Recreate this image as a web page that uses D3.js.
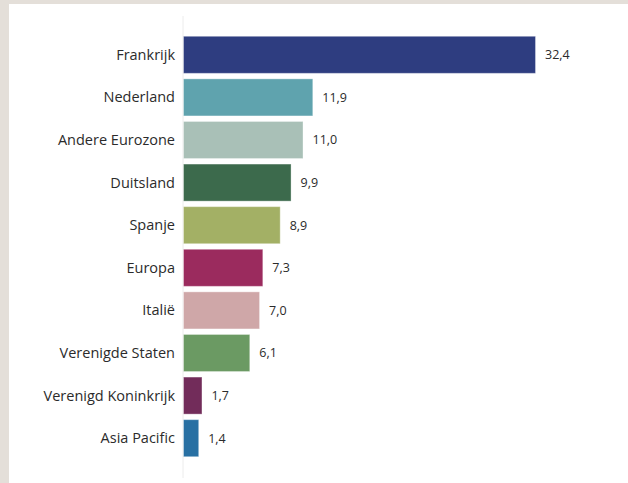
<!DOCTYPE html>
<html>
<head>
    <meta charset="utf-8">
    <style>
        body {
            margin: 0;
            background-color: #e4dfd9;
        }

        .panel {
            position: absolute;
            left: 9px;
            top: 4px;
            width: 619px;
            height: 479px;
            background-color: white;
        }

        svg {
            position: absolute;
            left: 0;
            top: 0;
        }

        .label {
            font-family: 'Open Sans', sans-serif;
            font-size: 14.5px;
            fill: #2b2b2b;
        }

        .value {
            font-family: 'Open Sans', sans-serif;
            font-size: 12.5px;
            fill: #2b2b2b;
        }
    </style>
</head>

<body>
    <div class="panel"></div>
    <svg width="628" height="483"></svg>

<script src="https://d3js.org/d3.v7.min.js"></script>
<script>
    let categories = ["Frankrijk", "Nederland", "Andere Eurozone", "Duitsland", "Spanje",
        "Europa", "Italië", "Verenigde Staten", "Verenigd Koninkrijk", "Asia Pacific"]
    let values = [32.4, 11.9, 11.0, 9.9, 8.9, 7.3, 7.0, 6.1, 1.7, 1.4]
    let colors = ["#2e3d80", "#5fa3ae", "#a9c0b7", "#3c6a4c", "#a3b065",
        "#9b2b5e", "#cfa7a8", "#6b9a63", "#722c5a", "#2870a3"]

    let data = categories.map((c, i) => ({ name: c, value: values[i], color: colors[i] }))

    let nl = d3.formatLocale({ decimal: ",", thousands: ".", grouping: [3], currency: ["€", ""] })
    let fmt = nl.format(".1f")

    let svg = d3.select("svg")

    let x = d3.scaleLinear()
        .domain([0, 32.4])
        .range([183, 535])

    let y = d3.scaleBand()
        .domain(categories)
        .range([33.5, 459.5])
        .paddingInner(0.13)
        .paddingOuter(0.065)

    // axis line
    svg.append("line")
        .attr("x1", x(0))
        .attr("x2", x(0))
        .attr("y1", 16)
        .attr("y2", 478)
        .style("stroke", "#ececec")
        .style("stroke-width", 1)

    svg.selectAll(".bar")
        .data(data)
        .join("rect")
        .attr("class", "bar")
        .attr("x", x(0) + 0.5)
        .attr("y", d => y(d.name))
        .attr("width", d => x(d.value) - x(0))
        .attr("height", y.bandwidth())
        .style("fill", d => d.color)
        .style("stroke", "white")
        .style("stroke-opacity", 0.35)
        .style("stroke-width", 1)

    svg.selectAll(".label")
        .data(data)
        .join("text")
        .attr("class", "label")
        .attr("x", x(0) - 8)
        .attr("y", d => y(d.name) + y.bandwidth() / 2)
        .attr("dy", "0.35em")
        .attr("text-anchor", "end")
        .text(d => d.name)

    svg.selectAll(".value")
        .data(data)
        .join("text")
        .attr("class", "value")
        .attr("x", d => x(d.value) + 10)
        .attr("y", d => y(d.name) + y.bandwidth() / 2)
        .attr("dy", "0.35em")
        .text(d => fmt(d.value))
</script>
</body>
</html>
